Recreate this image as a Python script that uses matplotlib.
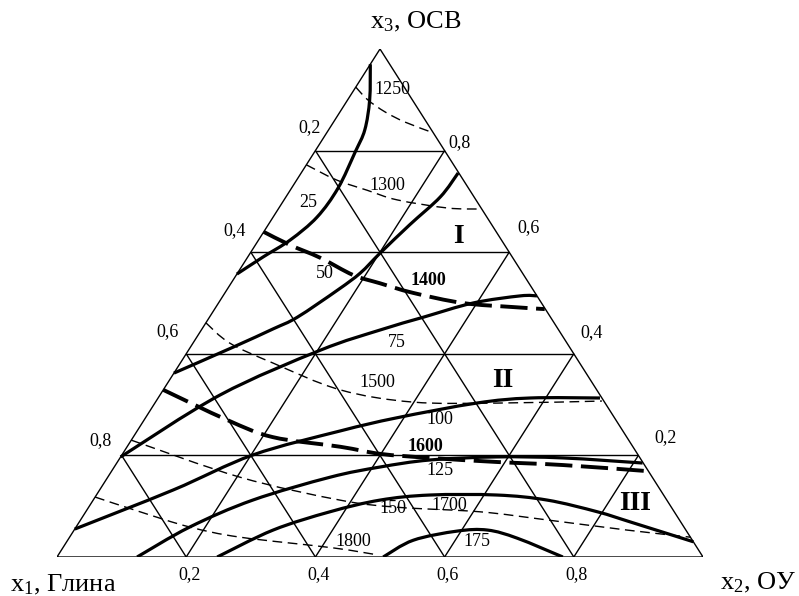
import numpy as np
import matplotlib
matplotlib.use("Agg")
import matplotlib.pyplot as plt
from matplotlib.path import Path
from matplotlib.patches import PathPatch

plt.rcParams['font.family'] = ['Liberation Serif', 'DejaVu Serif']
plt.rcParams['mathtext.fontset'] = 'custom'
plt.rcParams['mathtext.rm'] = 'Liberation Serif'
plt.rcParams['mathtext.it'] = 'Liberation Serif'

# curves as (x2, x3) compositions; x1 = 1 - x2 - x3
c25_x2 = [0.00, 0.034, 0.056, 0.063, 0.072, 0.068, 0.049, 0.024, 0.00]
c25_x3 = [0.97, 0.900, 0.841, 0.797, 0.726, 0.669, 0.624, 0.591, 0.557]
c50_x2 = [0.00, 0.066, 0.110, 0.136, 0.172, 0.190, 0.201, 0.219, 0.239, 0.243]
c50_x3 = [0.362, 0.413, 0.449, 0.472, 0.526, 0.559, 0.598, 0.654, 0.709, 0.756]
c75_x2 = [0.00, 0.093, 0.204, 0.277, 0.331, 0.394, 0.460, 0.486]
c75_x3 = [0.197, 0.319, 0.407, 0.447, 0.472, 0.500, 0.514, 0.514]
c100_x2 = [0.00, 0.114, 0.203, 0.314, 0.389, 0.498, 0.576, 0.684]
c100_x3 = [0.055, 0.132, 0.201, 0.248, 0.274, 0.303, 0.313, 0.313]
c125_x2 = [0.124, 0.176, 0.247, 0.344, 0.411, 0.482, 0.583, 0.686, 0.814]
c125_x3 = [0.000, 0.059, 0.112, 0.157, 0.177, 0.191, 0.197, 0.195, 0.185]
c150_x2 = [0.248, 0.308, 0.378, 0.444, 0.516, 0.620, 0.703, 0.792, 0.853, 0.970]
c150_x3 = [0.000, 0.053, 0.089, 0.112, 0.122, 0.122, 0.112, 0.089, 0.069, 0.030]
c175_x2 = [0.505, 0.535, 0.594, 0.640, 0.694, 0.783]
c175_x3 = [0.000, 0.033, 0.051, 0.053, 0.037, 0.000]

t1250_x2 = [0.00, 0.031, 0.070, 0.111, 0.165]
t1250_x3 = [0.925, 0.900, 0.876, 0.856, 0.835]
t1300_x2 = [0.00, 0.062, 0.119, 0.175, 0.261, 0.315]
t1300_x3 = [0.772, 0.742, 0.722, 0.703, 0.687, 0.685]
t1500_x2 = [0.00, 0.057, 0.143, 0.274, 0.398, 0.530, 0.690]
t1500_x3 = [0.461, 0.421, 0.382, 0.329, 0.305, 0.303, 0.307]
t1700_x2 = [0.00, 0.205, 0.382, 0.477, 0.610, 0.722, 0.856, 0.961]
t1700_x3 = [0.230, 0.157, 0.112, 0.098, 0.089, 0.073, 0.053, 0.039]
t1800_x2 = [0.00, 0.084, 0.176, 0.264, 0.418, 0.495]
t1800_x3 = [0.118, 0.089, 0.059, 0.039, 0.018, 0.004]

b1400_x2 = [0.00, 0.054, 0.113, 0.181, 0.230, 0.291, 0.378, 0.460, 0.511]
b1400_x3 = [0.640, 0.614, 0.589, 0.555, 0.539, 0.520, 0.500, 0.492, 0.488]
b1600_x2 = [0.00, 0.128, 0.216, 0.330, 0.399, 0.480, 0.588, 0.693, 0.830]
b1600_x3 = [0.329, 0.270, 0.236, 0.217, 0.203, 0.195, 0.187, 0.181, 0.169]

solid_curves = [(c25_x2, c25_x3), (c50_x2, c50_x3), (c75_x2, c75_x3),
                (c100_x2, c100_x3), (c125_x2, c125_x3), (c150_x2, c150_x3),
                (c175_x2, c175_x3)]
thin_dashed = [(t1250_x2, t1250_x3), (t1300_x2, t1300_x3), (t1500_x2, t1500_x3),
               (t1700_x2, t1700_x3), (t1800_x2, t1800_x3)]
thick_dashed = [(b1400_x2, b1400_x3), (b1600_x2, b1600_x3)]

# labels on the curves: text, x2, x3
curve_labels = ['25', '50', '75', '100', '125', '150', '175',
                '1250', '1300', '1400', '1500', '1600', '1700', '1800',
                'I', 'II', 'III']
label_x2 = [0.04, 0.135, 0.315, 0.458, 0.507, 0.472, 0.635,
            0.058, 0.146, 0.302, 0.325, 0.461, 0.557, 0.443,
            0.306, 0.516, 0.842]
label_x3 = [0.697, 0.559, 0.423, 0.270, 0.171, 0.096, 0.030,
            0.921, 0.732, 0.545, 0.343, 0.217, 0.102, 0.030,
            0.630, 0.348, 0.106]

ticks = [0.2, 0.4, 0.6, 0.8]
tick_text = ['0,2', '0,4', '0,6', '0,8']


def tern(x2, x3):
    x2 = np.asarray(x2, float)
    x3 = np.asarray(x3, float)
    return x2 + x3 / 2, x3


def smooth_path(X, Y):
    # cubic bezier through the points (catmull-rom tangents)
    P = np.column_stack([X, Y])
    verts = [P[0]]
    codes = [Path.MOVETO]
    n = len(P)
    for i in range(n - 1):
        p0 = P[i - 1] if i > 0 else P[i]
        p1, p2 = P[i], P[i + 1]
        p3 = P[i + 2] if i + 2 < n else P[i + 1]
        verts += [p1 + (p2 - p0) / 6, p2 - (p3 - p1) / 6, p2]
        codes += [Path.CURVE4] * 3
    return Path(verts, codes)


fig = plt.figure(figsize=(7.99, 5.96), dpi=100)
ax = fig.add_axes([57 / 799, 39 / 596, 646 / 799, 508 / 596])
ax.set_xlim(0, 1)
ax.set_ylim(0, 1)
ax.axis('off')

thin = dict(color='black', lw=1.0, solid_capstyle='butt')
# triangle
X, Y = tern([0, 1, 0, 0], [0, 0, 1, 0])
ax.plot(X, Y, **thin)
# grid
for v in ticks:
    X, Y = tern([0, 1 - v], [v, v])
    ax.plot(X, Y, **thin)
    X, Y = tern([v, v], [0, 1 - v])
    ax.plot(X, Y, **thin)
    X, Y = tern([1 - v, 0], [0, 1 - v])
    ax.plot(X, Y, **thin)

for x2, x3 in solid_curves:
    X, Y = tern(x2, x3)
    ax.add_patch(PathPatch(smooth_path(X, Y), fill=False, ec='black', lw=2.3,
                           capstyle='butt'))
for x2, x3 in thin_dashed:
    X, Y = tern(x2, x3)
    ax.add_patch(PathPatch(smooth_path(X, Y), fill=False, ec='black', lw=1.0,
                           linestyle=(0, (7, 4))))
for x2, x3 in thick_dashed:
    X, Y = tern(x2, x3)
    ax.add_patch(PathPatch(smooth_path(X, Y), fill=False, ec='black', lw=2.8,
                           linestyle=(0, (7, 2.2)), capstyle='butt'))

for s, a, b in zip(curve_labels, label_x2, label_x3):
    X, Y = tern(a, b)
    if s in ('I', 'II', 'III'):
        ax.text(X, Y, s, fontsize=20, fontweight='bold', ha='center', va='center')
    elif s in ('1400', '1600'):
        ax.text(X, Y, s, fontsize=13, fontweight='bold', ha='center', va='center')
    else:
        ax.text(X, Y, s, fontsize=13, ha='center', va='center')

# tick labels
left_off = [(-6, 23), (-16, 22), (-19, 22), (-21, 15)]
right_off = [(27, 18), (18, 21), (19, 25), (15, 8)]
for v, s, lo, ro in zip(ticks, tick_text, left_off, right_off):
    X, Y = tern(0, 1 - v)
    ax.annotate(s, (X, Y), xytext=lo, textcoords='offset pixels',
                fontsize=13, ha='center', va='center', annotation_clip=False)
    X, Y = tern(1 - v, v)
    ax.annotate(s, (X, Y), xytext=ro, textcoords='offset pixels',
                fontsize=13, ha='center', va='center', annotation_clip=False)
    X, Y = tern(v, 0)
    ax.annotate(s, (X, Y), xytext=(3, -18), textcoords='offset pixels',
                fontsize=13, ha='center', va='center', annotation_clip=False)

fig.text(370 / 799, 1 - 22 / 596, 'x$_3$, ОСВ', fontsize=19, ha='left', va='center')
fig.text(10 / 799, 1 - 585 / 596, 'x$_1$, Глина', fontsize=19, ha='left', va='center')
fig.text(720 / 799, 1 - 583 / 596, 'x$_2$, ОУ', fontsize=19, ha='left', va='center')

fig.savefig('out.png', dpi=100)
